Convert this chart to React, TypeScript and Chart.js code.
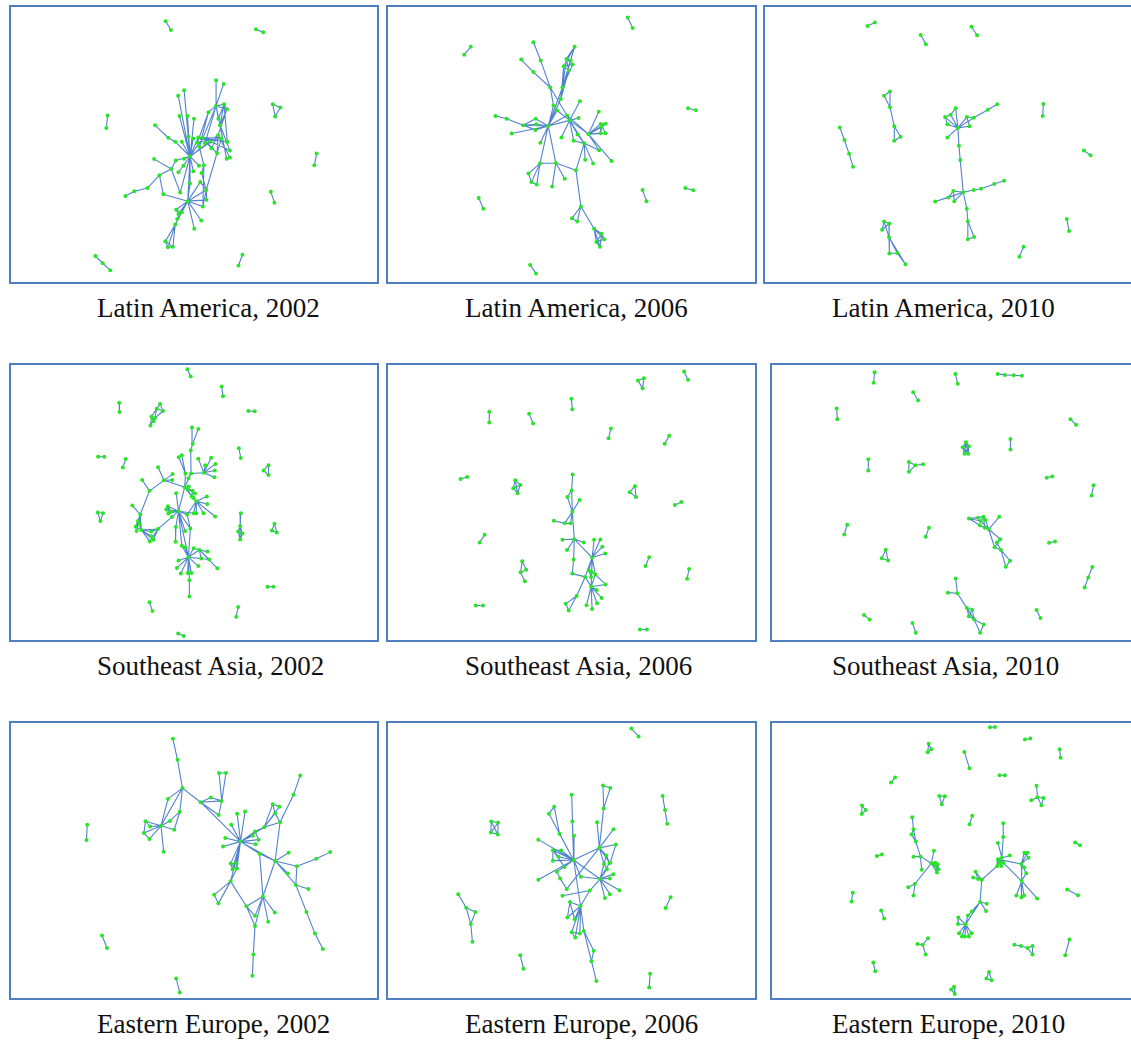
import React, { useEffect, useRef } from "react";
import { Chart, registerables } from "chart.js";

Chart.register(...registerables);

// Each group: [hubX, hubY, leafX, leafY, leafX, leafY, ...] — hub linked to every leaf.
// Coordinates are network-layout positions (layout units).
type Group = number[];

const panelTitles = [
  "Latin America, 2002",
  "Latin America, 2006",
  "Latin America, 2010",
  "Southeast Asia, 2002",
  "Southeast Asia, 2006",
  "Southeast Asia, 2010",
  "Eastern Europe, 2002",
  "Eastern Europe, 2006",
  "Eastern Europe, 2010",
];

const latinAmerica2002: Group[] = [
  [481, 58, 497, 85],
  [755, 83, 777, 92],
  [305, 345, 301, 383],
  [939, 461, 932, 497],
  [800, 577, 811, 611],
  [290, 795, 268, 773, 313, 816],
  [714, 769, 702, 802],
  [806, 311, 829, 321, 813, 348],
  [829, 321, 813, 348],
  [634, 316, 634, 238, 611, 335, 658, 311, 667, 326, 641, 355, 646, 375, 600, 430, 583, 440],
  [657, 249, 634, 316],
  [658, 311, 667, 326, 641, 355, 646, 375, 668, 425],
  [667, 326, 646, 375, 640, 405],
  [611, 335, 583, 440, 577, 428],
  [646, 375, 676, 452, 666, 477],
  [640, 405, 676, 473, 637, 460, 620, 445],
  [555, 470, 537, 268, 519, 285, 523, 347, 547, 347, 567, 355, 550, 410, 565, 415, 580, 412, 593, 413, 617, 425, 640, 405, 530, 425, 512, 482, 537, 477, 520, 518, 535, 498, 565, 515, 582, 498, 548, 606, 525, 580, 555, 552],
  [510, 425, 489, 413, 555, 470],
  [489, 413, 449, 375],
  [580, 412, 600, 430, 617, 425, 650, 415, 667, 425],
  [593, 413, 620, 445, 637, 460, 676, 452],
  [583, 440, 597, 497],
  [597, 497, 590, 520, 594, 622],
  [446, 478, 498, 508],
  [498, 508, 512, 482, 462, 527, 525, 580],
  [462, 527, 426, 566, 474, 585],
  [426, 566, 386, 576],
  [386, 576, 359, 590],
  [474, 585, 548, 606],
  [548, 606, 513, 632, 520, 645, 530, 640, 516, 660, 510, 677, 589, 665, 568, 690, 604, 572, 605, 602, 594, 622, 586, 548, 555, 552],
  [604, 572, 605, 602, 594, 622, 586, 548, 650, 415],
  [513, 632, 520, 645, 530, 640],
  [516, 660, 530, 640],
  [510, 677, 480, 728, 488, 746, 503, 745],
  [480, 728, 488, 746, 503, 745],
  [488, 746, 503, 745],
  [590, 520, 604, 572],
];

const latinAmerica2006: Group[] = [
  [739, 47, 754, 79],
  [263, 136, 243, 160],
  [922, 323, 946, 329],
  [287, 596, 301, 629],
  [784, 572, 796, 606],
  [914, 566, 938, 573],
  [443, 800, 461, 826],
  [541, 260, 578, 136, 553, 173, 566, 178, 545, 195, 572, 190, 560, 208],
  [578, 136, 553, 173, 545, 195],
  [553, 173, 566, 178, 572, 190, 560, 208],
  [545, 195, 560, 208, 572, 190],
  [536, 295, 545, 195, 560, 208, 541, 260],
  [453, 122, 475, 178],
  [475, 178, 504, 260],
  [416, 175, 453, 213],
  [453, 213, 504, 260],
  [504, 260, 555, 345, 514, 315],
  [498, 377, 541, 260, 536, 295, 514, 315, 525, 330, 422, 375, 460, 355, 462, 372, 459, 389, 387, 400, 474, 428, 473, 491, 521, 490, 555, 345, 563, 360],
  [372, 355, 338, 347, 422, 375],
  [422, 375, 460, 355, 462, 372, 459, 389],
  [563, 360, 555, 345, 594, 302, 590, 353, 538, 412, 575, 422, 587, 403, 620, 402, 607, 430, 525, 330],
  [620, 402, 651, 334, 657, 371, 672, 370, 660, 380, 672, 399, 657, 399, 652, 451, 690, 484, 555, 345],
  [657, 371, 672, 370, 672, 399, 657, 399],
  [660, 380, 672, 370, 657, 399],
  [607, 430, 587, 403, 575, 422, 652, 451, 610, 480, 582, 512, 634, 491],
  [473, 491, 521, 490, 438, 522, 447, 548, 463, 555],
  [438, 522, 447, 548],
  [447, 548, 463, 555],
  [521, 490, 582, 512, 548, 538, 510, 561],
  [582, 512, 597, 622],
  [597, 622, 570, 658, 586, 668, 637, 690],
  [570, 658, 586, 668],
  [637, 690, 660, 705, 644, 730, 668, 722, 655, 745],
  [660, 705, 668, 722, 655, 745, 644, 730],
  [644, 730, 668, 722, 655, 745],
];

const latinAmerica2010: Group[] = [
  [323, 73, 345, 62],
  [484, 100, 500, 128],
  [638, 75, 655, 101],
  [856, 310, 854, 347],
  [979, 452, 999, 466],
  [927, 660, 934, 697],
  [796, 745, 783, 775],
  [253, 420, 239, 382, 267, 462],
  [279, 501, 267, 462],
  [373, 285, 391, 272, 391, 320],
  [391, 320, 404, 378, 391, 272],
  [404, 378, 423, 410, 404, 422],
  [423, 410, 404, 422],
  [373, 668, 389, 674, 367, 693, 388, 716],
  [389, 674, 367, 693, 388, 716],
  [388, 716, 389, 765, 413, 764, 438, 798],
  [389, 765, 413, 764],
  [413, 764, 438, 798],
  [597, 383, 558, 350, 575, 343, 590, 323, 565, 372, 624, 350, 645, 352, 632, 378, 565, 412, 600, 437],
  [558, 350, 575, 343, 565, 372],
  [575, 343, 590, 323],
  [624, 350, 645, 352, 632, 378],
  [645, 352, 688, 328],
  [688, 328, 716, 311],
  [600, 437, 604, 481],
  [604, 481, 613, 579],
  [613, 579, 583, 575, 568, 595, 586, 606, 528, 607, 645, 572, 624, 629],
  [583, 575, 568, 595, 586, 606],
  [568, 595, 528, 607],
  [667, 568, 645, 572, 707, 554],
  [737, 544, 707, 554],
  [624, 629, 627, 667],
  [627, 667, 627, 722, 646, 715],
  [627, 722, 646, 715],
];

const southeastAsia2002: Group[] = [
  [547, 28, 557, 50],
  [651, 80, 655, 110],
  [340, 130, 341, 158],
  [732, 155, 751, 156],
  [276, 294, 295, 294],
  [360, 301, 351, 327],
  [703, 268, 709, 298],
  [432, 737, 441, 764],
  [701, 752, 695, 781],
  [519, 832, 536, 840],
  [790, 690, 808, 690],
  [793, 320, 778, 336, 793, 350],
  [778, 336, 793, 350],
  [275, 464, 291, 466, 283, 490],
  [291, 466, 283, 490],
  [811, 498, 803, 519, 818, 525],
  [803, 519, 818, 525],
  [454, 148, 464, 134, 473, 155, 438, 172, 448, 177],
  [448, 177, 444, 186, 435, 199, 473, 155],
  [438, 172, 444, 186, 435, 199],
  [464, 134, 473, 155],
  [709, 466, 707, 505],
  [707, 505, 701, 522, 714, 528, 707, 546],
  [701, 522, 714, 528, 707, 546],
  [714, 528, 707, 546],
  [563, 255, 561, 205, 580, 210],
  [557, 275, 563, 255],
  [597, 343, 580, 300, 619, 297, 632, 316, 630, 336, 629, 357, 601, 320, 558, 345],
  [558, 345, 557, 275, 550, 360, 539, 387],
  [541, 345, 521, 296, 530, 290, 539, 387],
  [476, 366, 458, 326, 432, 398, 502, 347, 501, 365, 539, 387],
  [432, 398, 410, 365, 404, 470],
  [404, 470, 380, 443, 397, 490, 390, 507, 393, 520, 407, 517, 402, 500],
  [397, 490, 390, 507, 393, 520, 407, 517],
  [390, 507, 407, 517],
  [407, 517, 437, 522, 458, 514, 433, 552, 444, 547, 437, 536],
  [458, 514, 444, 547, 433, 552, 500, 478],
  [437, 522, 458, 514],
  [520, 460, 488, 445, 483, 455, 489, 467, 497, 462, 513, 405, 539, 387, 546, 470, 566, 466, 500, 478, 512, 508, 540, 520, 556, 513, 530, 565, 550, 600],
  [488, 445, 483, 455, 489, 467, 497, 462],
  [539, 387, 548, 395, 563, 398, 570, 406, 560, 415, 566, 420, 551, 385],
  [563, 398, 570, 406, 560, 415],
  [548, 395, 560, 415],
  [574, 430, 560, 415, 606, 415, 607, 438, 596, 466, 574, 466, 566, 466, 631, 476, 546, 470],
  [556, 513, 550, 600, 546, 470],
  [512, 508, 511, 553],
  [550, 600, 520, 610, 515, 633, 527, 650, 548, 648, 559, 648, 553, 670, 580, 627, 589, 604, 613, 607, 566, 573, 583, 578, 540, 570, 530, 565],
  [553, 670, 553, 720],
  [583, 578, 608, 583, 613, 607, 589, 604, 638, 634],
  [566, 573, 583, 578],
];

const southeastAsia2006: Group[] = [
  [910, 35, 922, 60],
  [568, 118, 571, 150],
  [319, 157, 319, 190],
  [440, 163, 452, 193],
  [688, 208, 681, 238],
  [865, 230, 851, 255],
  [232, 362, 252, 356],
  [882, 441, 902, 432],
  [305, 532, 290, 555],
  [804, 600, 793, 627],
  [925, 636, 919, 666],
  [278, 747, 300, 747],
  [776, 820, 797, 820],
  [770, 62, 788, 55, 784, 86],
  [788, 55, 784, 86],
  [745, 402, 761, 384, 764, 417],
  [761, 384, 764, 417],
  [398, 366, 413, 380, 392, 390, 405, 405],
  [413, 380, 392, 390, 405, 405],
  [392, 390, 405, 405],
  [419, 612, 431, 638, 414, 646],
  [414, 646, 427, 673, 431, 638],
  [572, 348, 569, 397],
  [569, 397, 556, 417, 571, 462],
  [593, 426, 571, 462],
  [556, 417, 571, 462],
  [571, 462, 548, 497, 566, 497, 577, 545],
  [548, 497, 515, 489, 566, 497],
  [577, 545, 541, 547, 606, 555, 555, 578, 575, 607, 631, 601],
  [575, 607, 571, 650],
  [631, 601, 637, 547, 656, 546, 662, 568, 671, 589, 621, 640, 630, 645, 641, 653, 610, 660, 628, 690],
  [621, 640, 630, 645, 641, 653, 628, 660],
  [610, 660, 571, 650, 584, 718, 628, 690],
  [584, 718, 551, 742, 560, 762],
  [551, 742, 560, 762],
  [628, 690, 672, 683, 645, 700, 660, 724, 646, 740, 631, 758, 614, 746, 641, 653],
  [672, 683, 641, 653],
];

const southeastAsia2010: Group[] = [
  [326, 37, 323, 69],
  [571, 42, 578, 72],
  [721, 45, 699, 42, 748, 46],
  [748, 46, 773, 48],
  [443, 98, 458, 122],
  [211, 147, 213, 180],
  [920, 180, 937, 197],
  [738, 240, 738, 272],
  [307, 302, 307, 336],
  [848, 358, 865, 354],
  [990, 381, 984, 412],
  [243, 501, 234, 531],
  [491, 510, 481, 538],
  [855, 556, 873, 552],
  [974, 662, 986, 630, 963, 692],
  [294, 776, 311, 790],
  [817, 761, 829, 785],
  [441, 800, 451, 830],
  [430, 310, 450, 320, 430, 340],
  [450, 320, 430, 340, 473, 317],
  [360, 577, 348, 603, 367, 610],
  [348, 603, 367, 610],
  [603, 250, 593, 265, 612, 262, 599, 285, 610, 285],
  [593, 265, 612, 262, 599, 285, 610, 285],
  [612, 262, 599, 285, 610, 285],
  [599, 285, 610, 285],
  [612, 482, 640, 480, 648, 490, 645, 503, 656, 477],
  [656, 477, 662, 487, 648, 490, 660, 510],
  [640, 480, 656, 477],
  [645, 503, 660, 510, 672, 515],
  [648, 490, 672, 515],
  [662, 487, 672, 515],
  [672, 515, 704, 477, 707, 545, 690, 570],
  [707, 545, 690, 570, 697, 555],
  [690, 570, 709, 578],
  [697, 555, 709, 578],
  [709, 578, 737, 611, 724, 629],
  [737, 611, 724, 629],
  [577, 710, 572, 665, 548, 708, 606, 755],
  [606, 755, 622, 760, 612, 780, 628, 790],
  [622, 760, 612, 780, 628, 790],
  [612, 780, 628, 790],
  [628, 790, 657, 805, 646, 830],
  [657, 805, 646, 830],
];

const easternEurope2002: Group[] = [
  [243, 325, 241, 371],
  [288, 662, 303, 700],
  [513, 793, 524, 835],
  [503, 63, 517, 127],
  [517, 127, 532, 213],
  [532, 213, 488, 246, 467, 328, 524, 285, 587, 256],
  [488, 246, 467, 328],
  [467, 328, 420, 314, 434, 330, 415, 350, 432, 368, 475, 407, 494, 313, 507, 340],
  [420, 314, 434, 330, 415, 350],
  [415, 350, 432, 368],
  [524, 285, 494, 313, 507, 340],
  [587, 256, 618, 242, 651, 252, 642, 295, 708, 376],
  [618, 242, 651, 252],
  [651, 252, 643, 167, 664, 167],
  [643, 167, 664, 167],
  [642, 295, 651, 252],
  [708, 376, 680, 325, 698, 291, 722, 284, 662, 365, 655, 391, 745, 358, 752, 345, 763, 370, 754, 384, 780, 332, 766, 413, 813, 435, 678, 443, 695, 442, 684, 460, 697, 458, 678, 497],
  [678, 443, 695, 442, 684, 460, 697, 458],
  [695, 442, 697, 458],
  [678, 497, 697, 458],
  [752, 345, 780, 332, 763, 370],
  [780, 332, 806, 262, 826, 270, 813, 290, 828, 317],
  [806, 262, 826, 270, 813, 290],
  [813, 290, 828, 317],
  [869, 233, 889, 175, 828, 317],
  [828, 317, 813, 435],
  [813, 435, 854, 410, 852, 473, 879, 451, 876, 508, 766, 413],
  [879, 451, 938, 428],
  [938, 428, 980, 408],
  [876, 508, 914, 520, 908, 590, 879, 451],
  [908, 590, 934, 656],
  [934, 656, 958, 703],
  [813, 435, 776, 543],
  [678, 497, 628, 538, 641, 564, 726, 573],
  [628, 538, 641, 564],
  [726, 573, 776, 543, 752, 602, 752, 633],
  [776, 543, 766, 413, 752, 602, 792, 620, 812, 592, 752, 633],
  [752, 633, 747, 720],
  [747, 720, 744, 784],
];

const easternEurope2006: Group[] = [
  [750, 32, 772, 56],
  [845, 237, 852, 280],
  [852, 280, 859, 322],
  [869, 545, 854, 578],
  [413, 722, 423, 763],
  [807, 778, 804, 820],
  [325, 315, 346, 318, 324, 348, 345, 354],
  [346, 318, 324, 348, 345, 354],
  [324, 348, 345, 354],
  [225, 536, 249, 577],
  [249, 577, 277, 590, 263, 627],
  [277, 590, 263, 627],
  [263, 627, 268, 681],
  [575, 432, 569, 233, 571, 315, 576, 358, 532, 352, 500, 291, 468, 370, 512, 402, 537, 403, 529, 422, 512, 434, 524, 468, 547, 453, 468, 492, 653, 395, 655, 490, 597, 483, 596, 572],
  [516, 270, 500, 291, 532, 352],
  [512, 402, 537, 403, 529, 422, 512, 434, 547, 453],
  [534, 488, 524, 468, 554, 520],
  [653, 395, 646, 317, 666, 275, 696, 338, 703, 385, 674, 418, 667, 444, 684, 440, 554, 520],
  [666, 275, 664, 205, 686, 213],
  [664, 205, 686, 213],
  [703, 385, 686, 440],
  [655, 490, 674, 418, 667, 444, 684, 440, 695, 475, 685, 488, 676, 460, 714, 524, 685, 536, 670, 548, 624, 525, 597, 483],
  [674, 418, 684, 440],
  [667, 444, 676, 460],
  [624, 525, 541, 541, 596, 572],
  [596, 572, 564, 560, 556, 607, 578, 612, 580, 668, 569, 652, 594, 656, 606, 648],
  [564, 560, 556, 607, 578, 612],
  [569, 652, 580, 668, 594, 656],
  [606, 648, 636, 708, 629, 740],
  [636, 708, 629, 740],
  [629, 740, 644, 800],
];

const easternEurope2010: Group[] = [
  [676, 28, 691, 27],
  [782, 65, 798, 62],
  [887, 95, 890, 121],
  [598, 103, 614, 153],
  [388, 181, 376, 196],
  [705, 174, 721, 174],
  [622, 297, 614, 323],
  [934, 379, 949, 387],
  [333, 420, 348, 415],
  [260, 532, 256, 558],
  [910, 522, 943, 539],
  [346, 586, 355, 610],
  [917, 674, 904, 722],
  [322, 744, 328, 771],
  [490, 78, 498, 95, 487, 104],
  [498, 95, 487, 104],
  [522, 237, 539, 238, 530, 262],
  [539, 238, 530, 262],
  [288, 266, 299, 280, 287, 292],
  [299, 280, 287, 292],
  [820, 241, 817, 206, 801, 250, 838, 243, 832, 265],
  [838, 243, 832, 265],
  [472, 690, 456, 688, 488, 670, 481, 720],
  [673, 773, 665, 793, 681, 798],
  [665, 793, 681, 798],
  [567, 818, 558, 826, 569, 840],
  [558, 826, 569, 840],
  [770, 694, 750, 690, 790, 700],
  [790, 700, 805, 694, 805, 720],
  [805, 694, 805, 720],
  [444, 338, 440, 302, 438, 354, 451, 376],
  [438, 354, 451, 376],
  [451, 376, 465, 421],
  [465, 421, 444, 422, 498, 442, 469, 462],
  [498, 442, 506, 404, 510, 440, 517, 445, 509, 452, 520, 460, 515, 470, 448, 505],
  [510, 440, 517, 445, 509, 452, 520, 460, 515, 470],
  [517, 445, 520, 460],
  [448, 505, 428, 515, 444, 540],
  [716, 362, 716, 320, 712, 425],
  [700, 380, 712, 425],
  [700, 430, 706, 440, 712, 425, 698, 450, 710, 450, 716, 440, 736, 418, 771, 444],
  [706, 440, 710, 450, 716, 440, 698, 450],
  [698, 450, 651, 492],
  [651, 492, 632, 468, 625, 485, 640, 490, 646, 560],
  [632, 468, 640, 490],
  [646, 560, 666, 565, 664, 587, 621, 589, 609, 601, 602, 628],
  [602, 628, 580, 607, 579, 627, 582, 655, 591, 665, 600, 665, 612, 665, 620, 655, 609, 601],
  [580, 607, 579, 627],
  [771, 444, 780, 410, 790, 410, 793, 425, 772, 496, 786, 472, 780, 455],
  [780, 410, 790, 410, 793, 425],
  [716, 440, 772, 496],
  [772, 496, 756, 540, 771, 546, 779, 540, 819, 549, 786, 472],
];

const panelNetworks: Group[][] = [
  latinAmerica2002,
  latinAmerica2006,
  latinAmerica2010,
  southeastAsia2002,
  southeastAsia2006,
  southeastAsia2010,
  easternEurope2002,
  easternEurope2006,
  easternEurope2010,
];

// ---- layout (page pixels) ----
const LAYOUT_SCALE = 3; // layout units per page pixel
const rowTops = [5, 363, 721];
const rowFrameY = [0, 358, 716];
const colLeftsByRow = [
  [9, 386, 763],
  [9, 386, 770],
  [9, 386, 770],
];
const colFrameXByRow = [
  [5, 382, 759],
  [5, 382, 765],
  [5, 382, 765],
];
const colWidths = [370, 371, 380];
const panelHeight = 279;
const borderW = 2;
const titleLefts = [97, 465, 832];
const titleBaselines = [318, 676, 1034];
const titleFontSize = 27;

const EDGE_COLOR = "rgba(62, 116, 198, 0.9)";
const NODE_COLOR = "#27e627";
const FRAME_COLOR = "#4f7fc0";

interface PanelProps {
  groups: Group[];
  left: number;
  top: number;
  width: number;
  height: number;
  frameX: number;
  frameY: number;
}

function NetworkPanel({ groups, left, top, width, height, frameX, frameY }: PanelProps) {
  const ref = useRef<HTMLCanvasElement>(null);
  const innerW = width - 2 * borderW;
  const innerH = height - 2 * borderW;

  useEffect(() => {
    if (!ref.current) return;
    const nodes = new Map<string, { x: number; y: number }>();
    const edges: { x: number; y: number }[] = [];
    const addNode = (x: number, y: number) => {
      const k = x + "," + y;
      if (!nodes.has(k)) nodes.set(k, { x, y });
    };
    for (const g of groups) {
      const hx = g[0];
      const hy = g[1];
      addNode(hx, hy);
      for (let i = 2; i + 1 < g.length; i += 2) {
        addNode(g[i], g[i + 1]);
        edges.push({ x: hx, y: hy }, { x: g[i], y: g[i + 1] }, { x: NaN, y: NaN });
      }
    }
    const chart = new Chart(ref.current, {
      type: "scatter",
      data: {
        datasets: [
          {
            type: "scatter",
            data: Array.from(nodes.values()),
            pointRadius: 2,
            pointBackgroundColor: NODE_COLOR,
            pointBorderWidth: 0,
            pointHoverRadius: 2,
            order: 0,
            clip: 4,
          } as any,
          {
            type: "line",
            data: edges,
            borderColor: EDGE_COLOR,
            borderWidth: 1.1,
            pointRadius: 0,
            pointHoverRadius: 0,
            spanGaps: false,
            fill: false,
            tension: 0,
            order: 1,
            clip: 4,
          } as any,
        ],
      },
      options: {
        animation: false,
        responsive: false,
        events: [],
        layout: { padding: 0 },
        plugins: { legend: { display: false }, tooltip: { enabled: false } },
        scales: {
          x: {
            type: "linear",
            display: false,
            min: LAYOUT_SCALE * (left + borderW - frameX),
            max: LAYOUT_SCALE * (left + width - borderW - frameX),
          },
          y: {
            type: "linear",
            display: false,
            reverse: true,
            min: LAYOUT_SCALE * (top + borderW - frameY),
            max: LAYOUT_SCALE * (top + height - borderW - frameY),
          },
        },
      } as any,
    });
    return () => chart.destroy();
  }, [groups, left, top, width, height, frameX, frameY]);

  return (
    <div
      style={{
        position: "absolute",
        left,
        top,
        width,
        height,
        border: `${borderW}px solid ${FRAME_COLOR}`,
        boxSizing: "border-box",
        background: "#fff",
      }}
    >
      <canvas ref={ref} width={innerW} height={innerH} style={{ display: "block", width: innerW, height: innerH }} />
    </div>
  );
}

export default function App() {
  const panels = panelNetworks.map((groups, idx) => {
    const row = Math.floor(idx / 3);
    const col = idx % 3;
    return (
      <NetworkPanel
        key={"p" + idx}
        groups={groups}
        left={colLeftsByRow[row][col]}
        top={rowTops[row]}
        width={colWidths[col]}
        height={panelHeight}
        frameX={colFrameXByRow[row][col]}
        frameY={rowFrameY[row]}
      />
    );
  });
  const labels = panelTitles.map((t, idx) => {
    const row = Math.floor(idx / 3);
    const col = idx % 3;
    const asc = titleFontSize * 0.891 + (titleFontSize - titleFontSize * 1.107) / 2;
    return (
      <div
        key={"t" + idx}
        style={{
          position: "absolute",
          left: titleLefts[col],
          top: titleBaselines[row] - asc,
          fontFamily: '"Liberation Serif", "Times New Roman", serif',
          fontSize: titleFontSize,
          lineHeight: 1,
          color: "#111",
          whiteSpace: "nowrap",
        }}
      >
        {t}
      </div>
    );
  });
  return (
    <div
      style={{
        position: "absolute",
        left: 0,
        top: 0,
        width: 1131,
        height: 1041,
        overflow: "hidden",
        background: "#fff",
      }}
    >
      {panels}
      {labels}
    </div>
  );
}
